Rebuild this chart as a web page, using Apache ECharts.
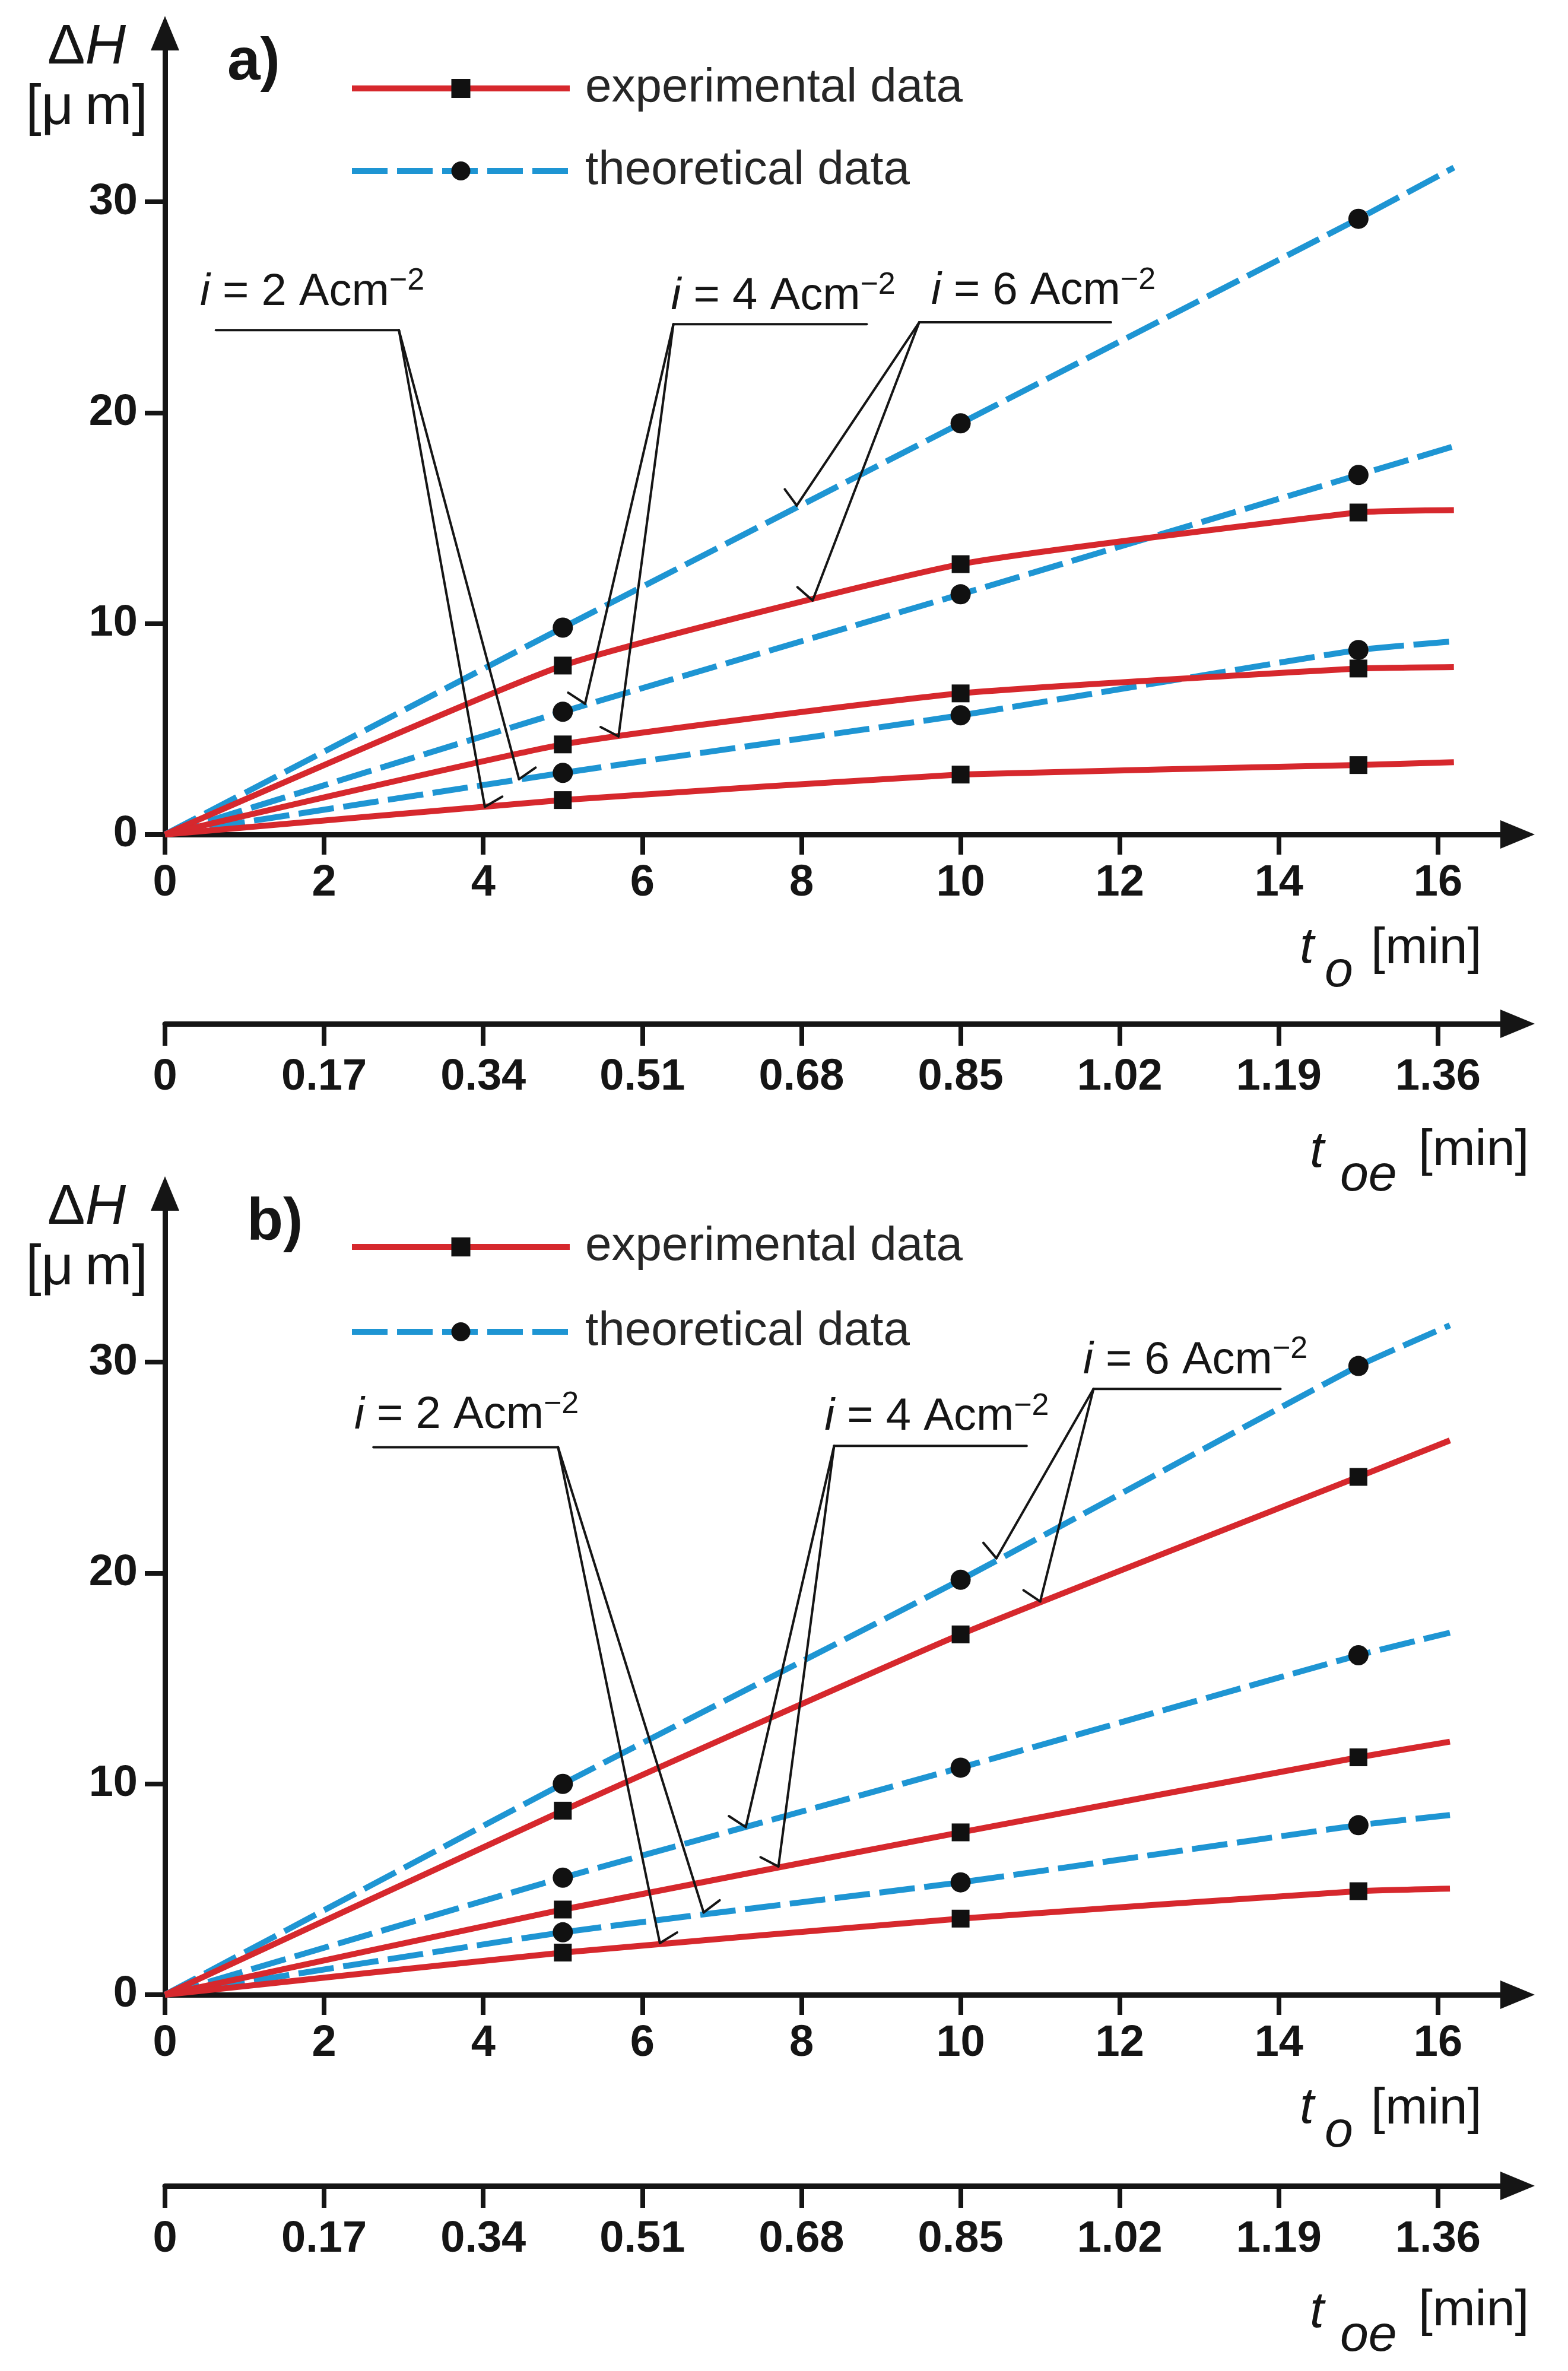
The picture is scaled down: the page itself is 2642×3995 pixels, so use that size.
<!DOCTYPE html>
<html>
<head>
<meta charset="utf-8">
<script src="https://cdn.jsdelivr.net/npm/echarts@6/dist/echarts.min.js"></script>
<style>
html,body{margin:0;padding:0;background:#ffffff;}
#chart{width:2642px;height:3995px;}
</style>
</head>
<body>
<div id="chart"></div>
<script>
// ---------- tick labels ----------
const toTicks  = [0, 2, 4, 6, 8, 10, 12, 14, 16];
const toeTicks = [0, 0.17, 0.34, 0.51, 0.68, 0.85, 1.02, 1.19, 1.36];
const dhTicks  = [0, 10, 20, 30];

// ---------- panel a) data: t_o [min] vs dH [um] ----------
const aTimes = [0, 5, 10, 15, 16.2];
const aExp6  = [0, 8.01, 12.82, 15.27, 15.38];
const aExp4  = [0, 4.27, 6.69, 7.87, 7.94];
const aExp2  = [0, 1.63, 2.84, 3.29, 3.43];
const aTh6   = [0, 9.81, 19.5, 29.2, 31.63];
const aTh4   = [0, 5.82, 11.39, 17.05, 18.41];
const aTh2   = [0, 2.92, 5.65, 8.75, 9.16];

// ---------- panel b) data ----------
const bTimes = [0, 5, 10, 15, 16.15];
const bExp6  = [0, 8.73, 17.09, 24.56, 26.29];
const bExp4  = [0, 4.04, 7.70, 11.26, 12.0];
const bExp2  = [0, 2.0, 3.61, 4.91, 5.03];
const bTh6   = [0, 10.0, 19.68, 29.82, 31.75];
const bTh4   = [0, 5.55, 10.77, 16.1, 17.17];
const bTh2   = [0, 2.96, 5.33, 8.04, 8.52];

const seriesNames = ['experimental data', 'theoretical data'];

// ---------- annotation leaders (data coordinates) ----------
const annA = [
  {i: 2, text: [0.44, 25.70], bar: [[0.64, 23.92], [2.94, 23.92]], hub: 'right', tips: [[4.02, 1.31], [4.45, 2.62]]},
  {i: 4, text: [6.36, 25.50], bar: [[6.39, 24.2], [8.82, 24.2]], hub: 'left', tips: [[5.28, 6.2], [5.70, 4.65]]},
  {i: 6, text: [9.63, 25.75], bar: [[9.48, 24.29], [11.89, 24.29]], hub: 'left', tips: [[7.94, 15.6], [8.14, 11.1]]}
];
const annB = [
  {i: 2, text: [2.38, 27.46], bar: [[2.62, 25.97], [4.94, 25.97]], hub: 'right', tips: [[6.22, 2.45], [6.77, 3.9]]},
  {i: 4, text: [8.29, 27.38], bar: [[8.41, 26.03], [10.83, 26.03]], hub: 'left', tips: [[7.30, 7.95], [7.71, 6.08]]},
  {i: 6, text: [11.54, 30.06], bar: [[11.67, 28.73], [14.02, 28.73]], hub: 'left', tips: [[10.45, 20.7], [11.0, 18.65]]}
];

// ---------- styles ----------
const INK = '#151515';
const RED = '#d6282d';
const BLUE = '#1e95d3';
const FONT = '"Liberation Sans", Arial, sans-serif';
const OFF = 1955; // vertical offset of panel b

function lineSeries(name, times, vals, kind, axis) {
  const exp = kind === 'exp';
  const sym = exp ? 'rect' : 'circle';
  return {
    type: 'line', name: name,
    xAxisIndex: axis, yAxisIndex: axis,
    data: vals.map((v, k) => ({
      value: [times[k], v],
      symbol: (k === 0 || k === vals.length - 1) ? 'none' : sym
    })),
    symbol: sym,
    symbolSize: exp ? 30 : 34,
    showSymbol: true, showAllSymbol: true,
    smooth: 0.15,
    lineStyle: {color: exp ? RED : BLUE, width: 10, type: exp ? 'solid' : [60, 16], cap: 'butt'},
    itemStyle: {color: '#111111'},
    z: exp ? 3 : 2,
    silent: true
  };
}

function annoRender(list) {
  return function (params, api) {
    const a = list[params.dataIndex];
    const b0 = api.coord(a.bar[0]);
    const b1 = api.coord(a.bar[1]);
    const hub = a.hub === 'right' ? b1 : b0;
    const st = {stroke: INK, lineWidth: 4, lineCap: 'round'};
    const ch = [{type: 'line', shape: {x1: b0[0], y1: b0[1], x2: b1[0], y2: b1[1]}, style: st}];
    const WING = 34, WA = 70 * Math.PI / 180;
    a.tips.forEach(function (tp) {
      const q = api.coord(tp);
      ch.push({type: 'line', shape: {x1: hub[0], y1: hub[1], x2: q[0], y2: q[1]}, style: st});
      const bx = hub[0] - q[0], by = hub[1] - q[1];
      const ang = Math.atan2(by, bx) + (bx > 0 ? -1 : 1) * WA;
      ch.push({type: 'line', shape: {x1: q[0], y1: q[1], x2: q[0] + WING * Math.cos(ang), y2: q[1] + WING * Math.sin(ang)}, style: st});
    });
    const tp = api.coord(a.text);
    ch.push({
      type: 'text', x: tp[0], y: tp[1],
      style: {
        text: '{it|i} = ' + a.i + ' Acm{sup|\u22122}',
        fill: INK, fontSize: 76, fontFamily: FONT, lineHeight: 90,
        align: 'left', verticalAlign: 'middle',
        rich: {
          it: {fontStyle: 'italic', fontSize: 76, fontFamily: FONT, lineHeight: 90, fill: INK},
          sup: {fontSize: 52, fontFamily: FONT, lineHeight: 56, verticalAlign: 'top', fill: INK}
        }
      }
    });
    return {type: 'group', children: ch};
  };
}

function mainX(gi) {
  return {
    type: 'value', gridIndex: gi, min: 0, max: 17,
    axisLine: {show: true, onZero: false, symbol: ['none', 'triangle'], symbolSize: [48, 58], lineStyle: {color: INK, width: 9}},
    axisTick: {show: true, customValues: toTicks, length: 34, lineStyle: {color: INK, width: 8}},
    axisLabel: {show: true, customValues: toTicks, margin: 46, fontSize: 74, fontWeight: 'bold', fontFamily: FONT, color: INK},
    splitLine: {show: false}
  };
}
function toeX(gi) {
  return {
    type: 'value', gridIndex: gi, min: 0, max: 1.445,
    axisLine: {show: true, onZero: false, symbol: ['none', 'triangle'], symbolSize: [48, 58], lineStyle: {color: INK, width: 9}},
    axisTick: {show: true, customValues: toeTicks, length: 37, lineStyle: {color: INK, width: 8}},
    axisLabel: {show: true, customValues: toeTicks, margin: 54, fontSize: 74, fontWeight: 'bold', fontFamily: FONT, color: INK,
      formatter: function (v) { return v === 0 ? '0' : v.toFixed(2); }},
    splitLine: {show: false}
  };
}
function mainY(gi) {
  return {
    type: 'value', gridIndex: gi, min: 0, max: 38,
    axisLine: {show: true, onZero: false, symbol: ['none', 'triangle'], symbolSize: [48, 58], lineStyle: {color: INK, width: 9}},
    axisTick: {show: true, customValues: dhTicks, length: 34, lineStyle: {color: INK, width: 8}},
    axisLabel: {show: true, customValues: dhTicks, margin: 46, fontSize: 74, fontWeight: 'bold', fontFamily: FONT, color: INK},
    splitLine: {show: false}
  };
}

function legendAt(top, gap) {
  return {
    orient: 'vertical', left: 583, top: top,
    itemWidth: 367, itemHeight: 40, itemGap: gap,
    data: seriesNames, selectedMode: false,
    lineStyle: {width: 10},
    textStyle: {fontSize: 80, fontFamily: FONT, color: '#262626', padding: [0, 0, 0, 21]}
  };
}

function txt(x, y, text, opts) {
  return {
    type: 'text', x: x, y: y, silent: true,
    style: Object.assign({text: text, fill: INK, fontFamily: FONT, fontSize: 86,
      align: 'left', verticalAlign: 'middle'}, opts || {})
  };
}

function panelGraphics(dy, letter, letterX) {
  const yLab = {
    fontSize: 95, align: 'center',
    rich: {d: {fontSize: 95, fontFamily: FONT, fill: INK}, h: {fontSize: 95, fontFamily: FONT, fontStyle: 'italic', fill: INK}}
  };
  return [
    txt(146, 81 + dy, '{d|\u0394}{h|H}', yLab),
    txt(146, 183 + dy, '[\u03bc\u2009m]', {fontSize: 95, align: 'center'}),
    txt(letterX, 106 + dy, letter, {fontSize: 100, fontWeight: 'bold'}),
    // t_o [min]
    txt(2190, 1598 + dy, 't', {fontStyle: 'italic'}),
    txt(2232, 1638 + dy, 'o', {fontStyle: 'italic'}),
    txt(2310, 1599 + dy, '[min]', {}),
    // t_oe [min]
    txt(2207, 1942 + dy, 't', {fontStyle: 'italic'}),
    txt(2258, 1982 + dy, 'oe', {fontStyle: 'italic'}),
    txt(2390, 1939 + dy, '[min]', {})
  ];
}

const chart = echarts.init(document.getElementById('chart'), null, {renderer: 'canvas'});

const option = {
  animation: false,
  backgroundColor: '#ffffff',
  grid: [
    {left: 278, top: 56, width: 2279, height: 1350},
    {left: 278, top: 56 + OFF, width: 2279, height: 1350},
    {left: 278, top: 1700, width: 2279, height: 25},
    {left: 278, top: 3658, width: 2279, height: 25}
  ],
  xAxis: [mainX(0), mainX(1), toeX(2), toeX(3)],
  yAxis: [mainY(0), mainY(1),
    {type: 'value', gridIndex: 2, show: false},
    {type: 'value', gridIndex: 3, show: false}],
  legend: [legendAt(104, 59), legendAt(2056, 63)],
  series: [
    lineSeries(seriesNames[0], aTimes, aExp6, 'exp', 0),
    lineSeries(seriesNames[0], aTimes, aExp4, 'exp', 0),
    lineSeries(seriesNames[0], aTimes, aExp2, 'exp', 0),
    lineSeries(seriesNames[1], aTimes, aTh6, 'th', 0),
    lineSeries(seriesNames[1], aTimes, aTh4, 'th', 0),
    lineSeries(seriesNames[1], aTimes, aTh2, 'th', 0),
    lineSeries(seriesNames[0], bTimes, bExp6, 'exp', 1),
    lineSeries(seriesNames[0], bTimes, bExp4, 'exp', 1),
    lineSeries(seriesNames[0], bTimes, bExp2, 'exp', 1),
    lineSeries(seriesNames[1], bTimes, bTh6, 'th', 1),
    lineSeries(seriesNames[1], bTimes, bTh4, 'th', 1),
    lineSeries(seriesNames[1], bTimes, bTh2, 'th', 1),
    {type: 'custom', name: 'annotations a', xAxisIndex: 0, yAxisIndex: 0, clip: false, silent: true, z: 10,
      data: annA.map(a => a.bar[0]), renderItem: annoRender(annA)},
    {type: 'custom', name: 'annotations b', xAxisIndex: 1, yAxisIndex: 1, clip: false, silent: true, z: 10,
      data: annB.map(a => a.bar[0]), renderItem: annoRender(annB)}
  ],
  graphic: [].concat(panelGraphics(0, 'a)', 383), panelGraphics(OFF, 'b)', 416))
};
chart.setOption(option);
</script>
</body>
</html>
